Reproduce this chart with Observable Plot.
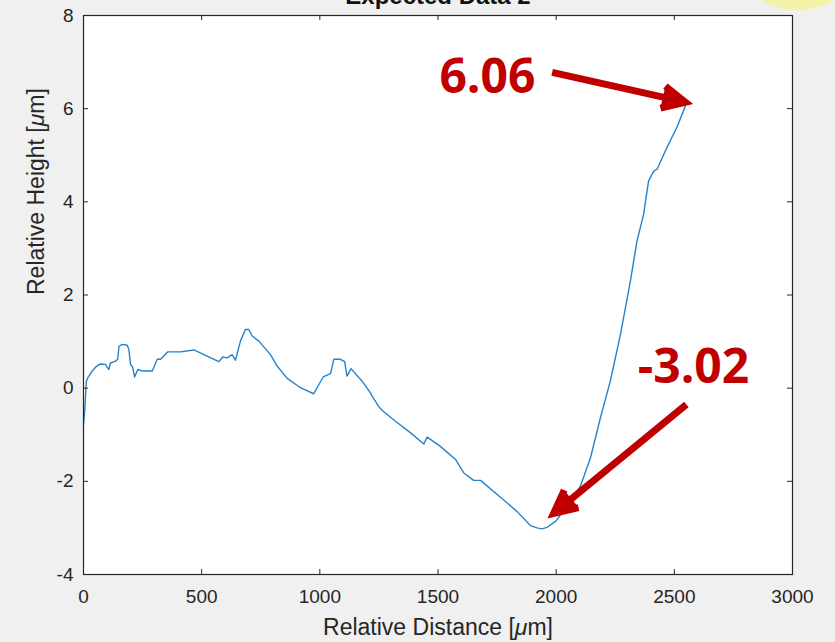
<!DOCTYPE html>
<html>
<head>
<meta charset="utf-8">
<script src="https://cdn.jsdelivr.net/npm/d3@7"></script>
<script src="https://cdn.jsdelivr.net/npm/@observablehq/plot@0.6"></script>
<style>
  html, body { margin: 0; padding: 0; background: #f0f0f0; overflow: hidden; }
  #wrap { position: relative; width: 835px; height: 642px; }
  #blob { position: absolute; left: 726px; top: -134px; width: 144px; height: 144px; border-radius: 50%; background: #f4f2a6; }
  #chart { position: absolute; left: 0; top: 0; }
</style>
</head>
<body>
<div id="wrap"><div id="blob"></div><div id="chart"></div></div>
<script>
const titleText = "Expected Data 2";
const xLabel = "Relative Distance [μm]";
const yLabel = "Relative Height [μm]";

const xTicks = [0, 500, 1000, 1500, 2000, 2500, 3000];
const xTickLabels = ["0", "500", "1000", "1500", "2000", "2500", "3000"];
const yTicks = [-4, -2, 0, 2, 4, 6, 8];
const yTickLabels = ["-4", "-2", "0", "2", "4", "6", "8"];

const distance = [0, 5, 12, 18, 37, 55, 72, 93, 100, 107, 114, 135, 145, 150, 164, 185, 192, 199, 208, 216, 230, 248, 291, 312, 326, 357, 410, 467, 523, 573, 589, 608, 629, 643, 664, 685, 699, 714, 742, 791, 820, 862, 918, 974, 1014, 1031, 1045, 1059, 1087, 1105, 1115, 1132, 1179, 1214, 1221, 1249, 1264, 1320, 1384, 1440, 1454, 1510, 1574, 1609, 1651, 1680, 1764, 1835, 1891, 1919, 1940, 1961, 1997, 2004, 2061, 2102, 2145, 2187, 2229, 2272, 2314, 2342, 2370, 2391, 2413, 2427, 2469, 2511, 2547];
const height = [-0.78, -0.5, 0.15, 0.22, 0.37, 0.47, 0.52, 0.51, 0.45, 0.40, 0.54, 0.58, 0.62, 0.90, 0.94, 0.92, 0.83, 0.51, 0.45, 0.24, 0.40, 0.37, 0.37, 0.62, 0.62, 0.78, 0.78, 0.82, 0.69, 0.57, 0.67, 0.65, 0.72, 0.60, 1.01, 1.26, 1.26, 1.12, 1.01, 0.72, 0.47, 0.21, 0.01, -0.12, 0.24, 0.28, 0.31, 0.62, 0.62, 0.57, 0.26, 0.42, 0.15, -0.10, -0.17, -0.39, -0.48, -0.71, -0.96, -1.20, -1.05, -1.25, -1.53, -1.82, -1.98, -1.98, -2.34, -2.65, -2.95, -3.00, -3.02, -2.99, -2.86, -2.82, -2.42, -2.11, -1.50, -0.64, 0.15, 1.15, 2.30, 3.16, 3.73, 4.45, 4.66, 4.70, 5.17, 5.60, 6.06];

const noteLabels = ["6.06", "-3.02"];
const noteX = [1709, 2581];
const noteY = [6.33, 0.12];
const arrowX1 = [1983, 2551];
const arrowY1 = [6.78, -0.35];
const arrowX2 = [2547, 1989];
const arrowY2 = [6.14, -2.69];

const profile = distance.map((d, i) => ({x: d, y: height[i]}));
const notes = noteLabels.map((t, i) => ({t, x: noteX[i], y: noteY[i], x1: arrowX1[i], y1: arrowY1[i], x2: arrowX2[i], y2: arrowY2[i]}));

const W = 835, H = 642;
const mt = 15, mr = 43, mb = 68, ml = 83;
const plotW = W - ml - mr, plotH = H - mt - mb;
const axisColor = "#262626";

const chart = Plot.plot({
  width: W,
  height: H,
  marginTop: mt, marginRight: mr, marginBottom: mb, marginLeft: ml,
  style: {background: "transparent", fontFamily: "'Liberation Sans', Arial, sans-serif", color: axisColor, overflow: "visible"},
  x: {domain: [0, 3000]},
  y: {domain: [-4, 8]},
  marks: [
    Plot.frame({fill: "white", stroke: null}),
    Plot.line(profile, {x: "x", y: "y", stroke: "#2483cc", strokeWidth: 1.4}),
    Plot.tickX(xTicks, {x: d => d, stroke: axisColor, insetTop: plotH - 5}),
    Plot.tickX(xTicks, {x: d => d, stroke: axisColor, insetBottom: plotH - 5}),
    Plot.tickY(yTicks, {y: d => d, stroke: axisColor, insetRight: plotW - 5}),
    Plot.tickY(yTicks, {y: d => d, stroke: axisColor, insetLeft: plotW - 5}),
    Plot.frame({stroke: axisColor, strokeWidth: 1.2}),
    Plot.axisX(xTicks, {tickSize: 0, tickPadding: 15, fontSize: 19, label: null, tickFormat: (d, i) => xTickLabels[i]}),
    Plot.axisY(yTicks, {tickSize: 0, tickPadding: 10, fontSize: 19, label: null, tickFormat: (d, i) => yTickLabels[i]}),
    Plot.text([xLabel], {frameAnchor: "bottom", dy: 60, fontSize: 23, fill: axisColor}),
    Plot.text([yLabel], {frameAnchor: "left", dx: -47, rotate: -90, fontSize: 23, fill: axisColor}),
    Plot.text([titleText], {frameAnchor: "top", dy: -12, lineAnchor: "bottom", fontSize: 24, fontWeight: "bold", fill: "#111"}),
    Plot.arrow(notes, {x1: "x1", y1: "y1", x2: "x2", y2: "y2", stroke: "#c00000", fill: "#c00000", strokeWidth: 7, headLength: 5.5, headAngle: 52, strokeMiterlimit: 10, strokeLinecap: "butt"}),
    Plot.text(notes, {x: "x", y: "y", text: "t", lineAnchor: "bottom", fontSize: 48, fontWeight: "bold", fontFamily: "'Open Sans', sans-serif", fill: "#c00000"})
  ]
});
// Italic mu, as in the TeX-style axis labels
d3.select(chart).selectAll("text").each(function () {
  const el = d3.select(this);
  if (!el.selectAll("tspan").empty()) return;
  const s = el.text();
  if (!s.includes("μ")) return;
  const parts = s.split("μ");
  el.text(null);
  el.append("tspan").text(parts[0]);
  el.append("tspan").attr("font-style", "italic").text("μ");
  el.append("tspan").text(parts[1]);
});
document.getElementById("chart").appendChild(chart);
</script>
</body>
</html>
